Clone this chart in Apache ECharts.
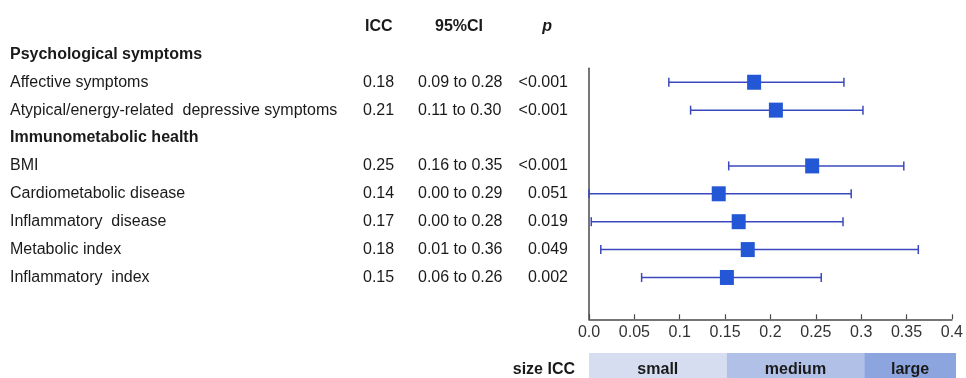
<!DOCTYPE html>
<html><head><meta charset="utf-8">
<script src="https://cdn.jsdelivr.net/npm/echarts@6/dist/echarts.min.js"></script>
<style>html,body{margin:0;padding:0;background:#fff}#c{width:966px;height:378px}</style>
</head><body><div id="c"></div>
<script>
// ---- data ----
const rows = ['Psychological symptoms','Affective symptoms','Atypical/energy-related  depressive symptoms','Immunometabolic health','BMI','Cardiometabolic disease','Inflammatory  disease','Metabolic index','Inflammatory  index'];
const isHeading = [true,false,false,true,false,false,false,false,false];
const iccText = ['','0.18','0.21','','0.25','0.14','0.17','0.18','0.15'];
const ciText = ['','0.09 to 0.28','0.11 to 0.30','','0.16 to 0.35','0.00 to 0.29','0.00 to 0.28','0.01 to 0.36','0.06 to 0.26'];
const pText = ['','<0.001','<0.001','','<0.001','0.051','0.019','0.049','0.002'];
const columnHeaders = ['ICC','95%CI','p'];
const iccPoint = [null,0.182,0.206,null,0.246,0.143,0.165,0.175,0.152];
const ciLow = [null,0.088,0.112,null,0.154,0.000,0.0025,0.013,0.058];
const ciHigh = [null,0.281,0.302,null,0.347,0.289,0.280,0.363,0.256];
const xMin = 0, xMax = 0.4, xStep = 0.05;
const sizeBounds = [0,0.15,0.30,0.40];
const sizeLabels = ['small','medium','large'];
const sizeTitle = 'size ICC';

// ---- chart ----
const FONT = '"Liberation Sans", Arial, sans-serif';
const TXT = '#1a1a1a';
const tableCats = ['h'].concat(rows.map((r,i)=>String(i))).concat(['e']);
const forestCats = rows.slice(1).map((r,i)=>String(i+1)).concat(['e']);
const sizeColors = ['#d6ddf0','#b1c0e6','#8ca5de'];

function tableAxis(offset, fmt, rich, align){
  return {
    type:'category', gridIndex:1, data:tableCats, inverse:true, position:'right', offset:offset,
    axisLine:{show:false}, axisTick:{show:false}, splitLine:{show:false},
    axisLabel:{interval:0, margin:0, align:align||'left', fontFamily:FONT, fontSize:16, color:TXT,
      formatter:fmt, rich:rich}
  };
}
const richBase = {
  n:{fontFamily:FONT, fontSize:16, color:TXT},
  b:{fontFamily:FONT, fontSize:16, color:TXT, fontWeight:'bold'},
  hi:{fontFamily:FONT, fontSize:16, color:TXT, fontWeight:'bold', padding:[0,0,0,2]},
  hc:{fontFamily:FONT, fontSize:16, color:TXT, fontWeight:'bold', padding:[0,0,0,17]},
  hp:{fontFamily:FONT, fontSize:16, color:TXT, fontWeight:'bold', fontStyle:'italic', padding:[0,16,0,0]}
};

const whiskerData = [], pointData = [];
rows.forEach((r,i)=>{
  if (iccPoint[i] != null) {
    whiskerData.push([ciLow[i], ciHigh[i], i-1]);
    pointData.push([iccPoint[i], i-1]);
  }
});
const sizeData = sizeLabels.map((l,i)=>[sizeBounds[i], sizeBounds[i+1], 0, i]);

const option = {
  animation:false,
  grid:[
    {left:589, right:10, top:68.3, bottom:58.7},
    {left:0, width:10, top:12.5, bottom:58.7},
    {left:589, right:10, top:353, bottom:0}
  ],
  xAxis:[
    {type:'value', gridIndex:0, min:xMin, max:xMax, interval:xStep,
     axisLine:{show:true, lineStyle:{color:'#4a4a4a', width:1.5}},
     axisTick:{show:true, inside:true, length:5, lineStyle:{color:'#4a4a4a', width:1.2}},
     splitLine:{show:false},
     axisLabel:{margin:5, fontFamily:FONT, fontSize:16, color:'#333',
       formatter:v=> v===0 ? '0.0' : String(+v.toFixed(2))}},
    {type:'value', gridIndex:1, show:false, min:0, max:1},
    {type:'value', gridIndex:2, show:false, min:xMin, max:xMax}
  ],
  yAxis:[
    {type:'category', gridIndex:0, data:forestCats, inverse:true,
     axisLine:{show:true, lineStyle:{color:'#4a4a4a', width:1.5}}, axisTick:{show:false},
     axisLabel:{show:false}, splitLine:{show:false}},
    tableAxis(0, (v,i)=>{
      const k=i-1; if (k<0||k>=rows.length) return '';
      return isHeading[k] ? '{b|'+rows[k]+'}' : '{n|'+rows[k]+'}';
    }, richBase),
    tableAxis(353, (v,i)=>{
      if (i===0) return '{hi|'+columnHeaders[0]+'}';
      const k=i-1; if (k<0||k>=rows.length) return '';
      return iccText[k] ? '{n|'+iccText[k]+'}' : '';
    }, richBase),
    tableAxis(408, (v,i)=>{
      if (i===0) return '{hc|'+columnHeaders[1]+'}';
      const k=i-1; if (k<0||k>=rows.length) return '';
      return ciText[k] ? '{n|'+ciText[k]+'}' : '';
    }, richBase),
    tableAxis(558, (v,i)=>{
      if (i===0) return '{hp|'+columnHeaders[2]+'}';
      const k=i-1; if (k<0||k>=rows.length) return '';
      return pText[k] ? '{n|'+pText[k]+'}' : '';
    }, richBase, 'right'),
    {type:'category', gridIndex:2, data:[sizeTitle],
     axisLine:{show:false}, axisTick:{show:false}, splitLine:{show:false},
     axisLabel:{margin:14, fontFamily:FONT, fontSize:16, fontWeight:'bold', color:TXT,
       formatter:v=>'{s|'+v+'}',
       rich:{s:{fontFamily:FONT, fontSize:16, fontWeight:'bold', color:TXT, padding:[8,0,0,0]}}}}
  ],
  series:[
    {type:'custom', xAxisIndex:0, yAxisIndex:0, data:whiskerData, silent:true,
     renderItem:(params, api)=>{
       const a = api.coord([api.value(0), api.value(2)]);
       const b = api.coord([api.value(1), api.value(2)]);
       const st = {stroke:'#3a48bf', lineWidth:1.5};
       return {type:'group', children:[
         {type:'line', shape:{x1:a[0], y1:a[1], x2:b[0], y2:b[1]}, style:st},
         {type:'line', shape:{x1:a[0], y1:a[1]-4.5, x2:a[0], y2:a[1]+4.5}, style:st},
         {type:'line', shape:{x1:b[0], y1:b[1]-4.5, x2:b[0], y2:b[1]+4.5}, style:st}
       ]};
     }},
    {type:'scatter', xAxisIndex:0, yAxisIndex:0, data:pointData, symbol:'rect', symbolSize:[14,15],
     itemStyle:{color:'#2457d6', opacity:1}, silent:true},
    {type:'custom', xAxisIndex:2, yAxisIndex:5, data:sizeData, silent:true,
     renderItem:(params, api)=>{
       const a = api.coord([api.value(0), api.value(2)]);
       const b = api.coord([api.value(1), api.value(2)]);
       const h = api.size([0,1])[1];
       const idx = api.value(3);
       return {type:'group', children:[
         {type:'rect', shape:{x:a[0], y:a[1]-h/2, width:b[0]-a[0], height:h}, style:{fill:sizeColors[idx]}},
         {type:'text', style:{text:sizeLabels[idx], x:(a[0]+b[0])/2, y:a[1]+4, align:'center', verticalAlign:'middle',
           fontFamily:FONT, fontSize:16, fontWeight:'bold', fill:TXT}}
       ]};
     }}
  ]
};
const chart = echarts.init(document.getElementById('c'), null, {renderer:'canvas'});
chart.setOption(option);
</script></body></html>
